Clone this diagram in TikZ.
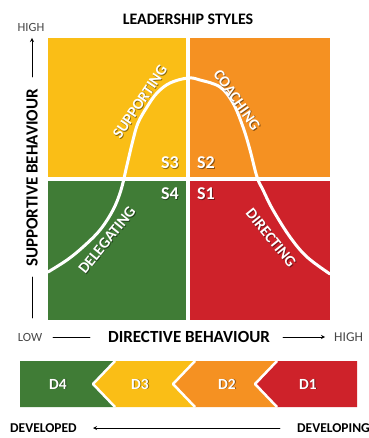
\documentclass[tikz,border=0pt]{standalone}
\usepackage{fontspec}
\setmainfont{Carlito}
\definecolor{yel}{RGB}{250,190,22}
\definecolor{ora}{RGB}{245,145,34}
\definecolor{grn}{RGB}{64,124,54}
\definecolor{rd}{RGB}{206,34,42}
\definecolor{gry}{RGB}{70,70,70}
\begin{document}
\begin{tikzpicture}[x=1pt,y=-1pt,line cap=round,line join=round,>=stealth,
  wlbl/.style={text=white,inner sep=0,font=\bfseries\fontsize{15.5}{15.5}\selectfont},
  slbl/.style={text=white,inner sep=0,font=\bfseries\fontsize{18}{18}\selectfont},
  dlbl/.style={text=white,inner sep=0,font=\bfseries\fontsize{15.5}{15.5}\selectfont},
  ax/.style={inner sep=0,font=\bfseries\fontsize{17}{17}\selectfont},
  sm/.style={inner sep=0,text=gry,font=\fontsize{12.5}{12.5}\selectfont},
  shd/.style={text=black,opacity=.45,xshift=.8pt,yshift=-.8pt}]
\useasboundingbox (0,0) rectangle (368,438);
% quadrants
\fill[yel] (48,38) rectangle (186,177);
\fill[ora] (190,38) rectangle (330,177);
\fill[grn] (48,181) rectangle (186,320);
\fill[rd] (190,181) rectangle (330,320);
\draw[white,line width=3pt] plot[smooth,tension=.6] coordinates {(48,272) (67,260) (83,247) (100,230) (113,210) (121,190) (127,165) (133,140) (138,123) (147,107) (157,93) (170,83) (188,78) (200,80) (220,87) (233,103) (243,127) (250,150) (257,177) (263,190) (273,210) (290,237) (307,257) (330,274)};
% styles along the curve
\foreach \n/\t/\x/\y/\a in {sup/SUPPORTING/140/102/56,coa/COACHING/237/100/-55,del/DELEGATING/107/240/51,dir/DIRECTING/271/238/-51}{
  \node[wlbl,shd,rotate=\a] (\n s) at (\x,\y) {\t};
  \node[wlbl,rotate=\a] (\n) at (\x,\y) {\t};
}
\foreach \n/\t/\x/\y/\an in {s3/S3/179/163/east,s2/S2/197/163/west,s4/S4/179/194/east,s1/S1/197/194/west}{
  \node[slbl,shd,anchor=\an] (\n s) at (\x,\y) {\t};
  \node[slbl,anchor=\an] (\n) at (\x,\y) {\t};
}
% title and axes
\node[ax,font=\bfseries\fontsize{16}{16}\selectfont] (title) at (188,19) {LEADERSHIP STYLES};
\node[sm] (hiy) at (31,27) {HIGH};
\node[ax,rotate=90] (sb) at (32,178) {SUPPORTIVE BEHAVIOUR};
\coordinate (ytop) at (32,38);
\coordinate (ybot) at (32,318);
\draw[->,thick] (sb.east|-0,77) -- (ytop);
\draw[thick] (sb.west|-0,277) -- (ybot);
\node[sm] (low) at (30,337) {LOW};
\node[ax] (db) at (189,337) {DIRECTIVE BEHAVIOUR};
\node[sm,anchor=west,font=\fontsize{13.5}{13.5}\selectfont] (hix) at (334,337) {HIGH};
\coordinate (xa) at (53,337);
\coordinate (xb) at (90,337);
\coordinate (xc) at (283,337);
\coordinate (xd) at (325,337);
\draw[thick] (xa) -- (xb);
\draw[->,thick] (xc) -- (xd);
% development bar
\fill[grn] (20,361) -- (115,361) -- (93,384) -- (115,407) -- (20,407) -- cycle;
\fill[yel] (115,361) -- (195,361) -- (175,384) -- (195,407) -- (115,407) -- (93,384) -- cycle;
\fill[ora] (195,361) -- (277,361) -- (257,384) -- (277,407) -- (195,407) -- (175,384) -- cycle;
\fill[rd] (277,361) -- (357,361) -- (357,407) -- (277,407) -- (257,384) -- cycle;
\foreach \xx in {115,195,277}
  \draw[white,line width=2.5pt,line cap=butt] (\xx,361) -- (\xx-22,384) -- (\xx,407);
\foreach \n/\t/\x in {d4/D4/58,d3/D3/140,d2/D2/227,d1/D1/308}{
  \node[dlbl,shd] (\n s) at (\x,384) {\t};
  \node[dlbl] (\n) at (\x,384) {\t};
}
\node[inner sep=0,anchor=west,font=\bfseries\fontsize{13.5}{13.5}\selectfont] (dvd) at (10,428) {DEVELOPED};
\node[inner sep=0,anchor=west,font=\bfseries\fontsize{13.5}{13.5}\selectfont] (dvg) at (297,428) {DEVELOPING};
\coordinate (ea) at (280,428);
\coordinate (eb) at (93,428);
\draw[->,thick] (ea) -- (eb);
\end{tikzpicture}
\end{document}
